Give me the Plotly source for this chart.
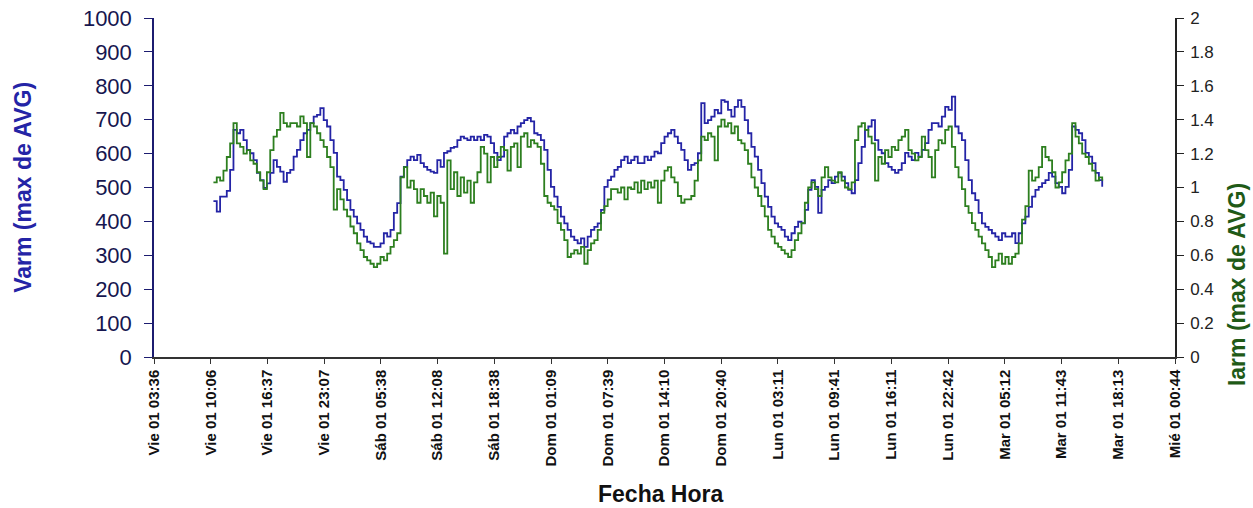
import plotly.graph_objects as go

# Time axis: minutes elapsed since "Vie 01 03:36"
tick_minutes = [0, 390, 781, 1171, 1562, 1952, 2342, 2733, 3123, 3514,
                3904, 4295, 4685, 5075, 5466, 5856, 6247, 6637, 7028]
tick_labels = ["Vie 01 03:36", "Vie 01 10:06", "Vie 01 16:37", "Vie 01 23:07",
               "Sáb 01 05:38", "Sáb 01 12:08", "Sáb 01 18:38", "Dom 01 01:09",
               "Dom 01 07:39", "Dom 01 14:10", "Dom 01 20:40", "Lun 01 03:11",
               "Lun 01 09:41", "Lun 01 16:11", "Lun 01 22:42", "Mar 01 05:12",
               "Mar 01 11:43", "Mar 01 18:13", "Mié 01 00:44"]

start_minute = 409      # first sample (Vie 01 ~10:25)
step_minutes = 23       # sampling interval

varm = [460, 429, 473, 473, 490, 552, 670, 660, 670, 640, 611, 601, 581, 543, 522, 499, 512, 543, 581, 561,
        547, 517, 543, 552, 591, 611, 640, 660, 670, 690, 709, 714, 734, 699, 680, 640, 602, 532, 522, 493,
        463, 434, 414, 394, 375, 355, 340, 335, 325, 325, 335, 365, 355, 375, 425, 454, 532, 561, 581, 591,
        581, 596, 572, 561, 552, 547, 543, 581, 561,
        602, 607, 617, 620, 640, 650, 645, 640, 650, 640, 650, 640, 655, 650, 631, 602, 581, 591, 650, 660,
        670, 660, 680, 690, 699, 705, 695, 660, 655, 640, 611, 552, 502, 473, 443, 414, 394, 375, 355, 345,
        335, 350, 325, 355, 375, 384, 394, 434, 502, 522, 532, 552, 561, 581, 591, 572, 581, 591, 572, 572,
        591, 581, 591, 606, 601,
        631, 650, 660, 670, 650, 631, 611, 581, 552, 567, 572, 601, 749, 690, 699, 709, 729, 719, 758, 753,
        729, 709, 738, 758, 738, 699, 660, 620, 591, 552, 513, 473, 443, 414, 394, 384, 375, 355, 345, 365,
        384, 399, 394, 434, 493, 522, 502, 425, 493, 502, 522, 513, 532, 543, 532, 513, 493, 483, 522, 572,
        620, 670, 680, 699, 640, 611, 601, 572, 561,
        552, 543, 552, 572, 602, 591, 581, 602, 591, 611, 631, 670, 690, 690, 680, 709, 738, 729, 768, 680,
        660, 640, 581, 522, 483, 463, 425, 394, 384, 375, 365, 355, 345, 365, 355, 355, 365, 336, 365, 394,
        414, 443, 473, 493, 502, 513, 522, 543, 532, 513, 502, 483, 502, 552, 680, 670, 660, 640, 602, 591,
        572, 543, 522, 502]

iarm = [1.03, 1.06, 1.04, 1.10, 1.18, 1.26, 1.38, 1.26, 1.24, 1.20, 1.22, 1.16, 1.14, 1.09, 1.04, 0.99, 1.09, 1.22, 1.30, 1.34,
        1.44, 1.38, 1.36, 1.38, 1.38, 1.36, 1.42, 1.38, 1.18, 1.38, 1.36, 1.32, 1.28, 1.24, 1.18, 1.12, 0.87, 0.99, 0.93, 0.87,
        0.83, 0.77, 0.73, 0.67, 0.63, 0.59, 0.57, 0.55, 0.53, 0.55, 0.59, 0.57, 0.61, 0.65, 0.69, 0.73, 1.06, 1.12, 1.00, 1.04,
        0.99, 0.91, 0.99, 0.95, 0.91, 0.97, 0.83, 0.95, 0.91,
        0.61, 1.16, 0.99, 1.09, 0.95, 1.06, 0.97, 1.04, 0.91, 1.03, 1.09, 1.24, 1.20, 1.03, 1.18, 1.12, 1.18, 1.24, 1.22, 1.10,
        1.24, 1.26, 1.12, 1.30, 1.32, 1.24, 1.28, 1.26, 1.24, 1.14, 0.95, 0.91, 0.89, 0.87, 0.79, 0.75, 0.69, 0.59, 0.61, 0.63,
        0.61, 0.65, 0.55, 0.63, 0.67, 0.69, 0.75, 0.85, 0.89, 0.93, 0.99, 0.99, 0.97, 1.00, 0.93, 1.00, 0.99, 1.03, 0.97, 1.04,
        0.99, 1.03, 1.00, 1.04, 0.91,
        1.04, 1.10, 1.12, 1.06, 1.03, 0.95, 0.91, 0.93, 0.93, 0.95, 1.04, 1.16, 1.30, 1.28, 1.32, 1.30, 1.16, 1.36, 1.40, 1.36,
        1.38, 1.32, 1.36, 1.28, 1.26, 1.22, 1.14, 1.06, 1.00, 0.95, 0.89, 0.83, 0.75, 0.71, 0.67, 0.65, 0.63, 0.61, 0.59, 0.63,
        0.69, 0.73, 0.79, 0.91, 1.00, 1.03, 0.99, 0.95, 1.06, 1.12, 1.06, 1.04, 1.03, 1.09, 1.04, 1.00, 0.99, 1.03, 1.28, 1.36,
        1.38, 1.34, 1.30, 1.26, 1.04, 1.18, 1.14, 1.22, 1.18,
        1.24, 1.22, 1.28, 1.30, 1.34, 1.22, 1.20, 1.16, 1.18, 1.30, 1.22, 1.18, 1.06, 1.22, 1.28, 1.26, 1.34, 1.36, 1.24, 1.12,
        1.06, 0.99, 0.89, 0.85, 0.79, 0.75, 0.71, 0.67, 0.63, 0.59, 0.53, 0.57, 0.61, 0.55, 0.59, 0.55, 0.59, 0.61, 0.67, 0.81,
        0.89, 1.10, 1.04, 1.06, 1.12, 1.24, 1.18, 1.16, 1.09, 1.00, 1.03, 1.09, 1.16, 1.20, 1.38, 1.30, 1.26, 1.20, 1.18, 1.14,
        1.10, 1.04, 1.06, 1.04]

times = [start_minute + i * step_minutes for i in range(len(varm))]

BLUE = "#2424a6"
GREEN = "#2d7f1f"
FONT = "Liberation Sans, Arial, sans-serif"

fig = go.Figure()
fig.add_trace(go.Scatter(x=times, y=varm, mode="lines", name="Varm",
                         line=dict(color=BLUE, width=1.8, shape="hv"), yaxis="y"))
fig.add_trace(go.Scatter(x=times, y=iarm, mode="lines", name="Iarm",
                         line=dict(color=GREEN, width=1.8, shape="hv"), yaxis="y2"))

fig.update_layout(
    width=1253, height=508,
    margin=dict(l=154, r=78, t=18, b=151),
    paper_bgcolor="white", plot_bgcolor="white",
    showlegend=False,
    font=dict(family=FONT, color="#222"),
    xaxis=dict(range=[0, 7028], tickmode="array", tickvals=tick_minutes, ticktext=tick_labels,
               tickangle=-90, showgrid=False, zeroline=False, showline=True, linecolor="#333",
               linewidth=1.5, ticks="outside", ticklen=5, tickcolor="#333",
               tickfont=dict(family=FONT, size=15, color="#111", weight="bold"), automargin=False),
    yaxis=dict(range=[0, 1000], dtick=100, showgrid=False, zeroline=False, showline=True,
               linecolor="#1c1c70", linewidth=1.5, ticks="outside", ticklen=8, tickcolor="#1c1c70",
               ticklabelstandoff=8,
               tickfont=dict(family=FONT, size=22, color="#16164f"), automargin=False),
    yaxis2=dict(range=[0, 2], dtick=0.2, overlaying="y", side="right", showgrid=False,
                zeroline=False, showline=True, linecolor="#222", linewidth=1.5, ticks="outside",
                ticklen=7, tickcolor="#222", ticklabelstandoff=3,
                tickfont=dict(family=FONT, size=17, color="#222"),
                automargin=False),
    annotations=[
        dict(text="Varm (max de AVG)", xref="paper", yref="paper", x=-0.129, y=0.5,
             textangle=-90, showarrow=False, xanchor="center", yanchor="middle",
             font=dict(family=FONT, size=23, color=BLUE, weight="bold")),
        dict(text="Iarm (max de AVG)", xref="paper", yref="paper", x=1.0607, y=0.215,
             textangle=-90, showarrow=False, xanchor="center", yanchor="middle",
             font=dict(family=FONT, size=23, color="#1f5a17", weight="bold")),
        dict(text="Fecha Hora", xref="paper", yref="paper", x=0.4956, y=-0.404,
             showarrow=False, xanchor="center", yanchor="middle",
             font=dict(family=FONT, size=23, color="#111", weight="bold")),
    ],
)

fig.write_html("out.html", config={"displayModeBar": False},
               post_script="document.body.style.margin='0';document.body.style.padding='0';")
